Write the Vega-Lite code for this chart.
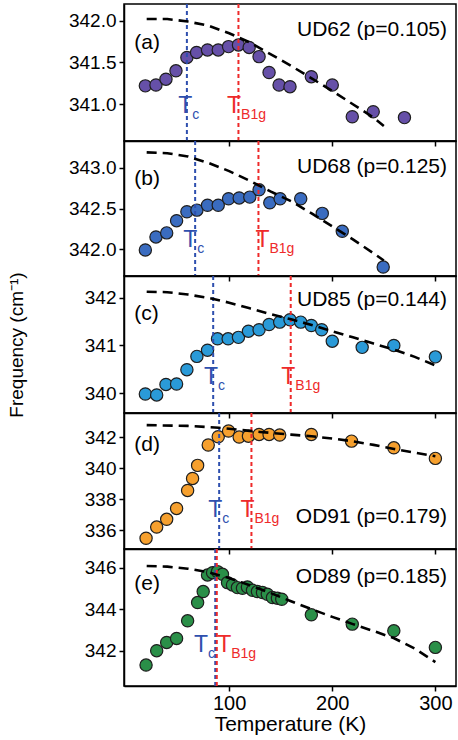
{
  "$schema": "https://vega.github.io/schema/vega-lite/v6.json",
  "padding": {"left": 6, "top": 2, "right": 1, "bottom": 0},
  "spacing": 0,
  "bounds": "flush",
  "resolve": {"scale": {"y": "independent", "x": "independent", "color": "shared"}},
  "config": {
    "view": {"stroke": "black", "strokeWidth": 1.5},
    "axis": {"labelFont": "Liberation Sans", "titleFont": "Liberation Sans", "labelFontSize": 19, "titleFontSize": 21, "titleFontWeight": "normal", "labelColor": "black", "titleColor": "black", "tickColor": "black", "domainColor": "black", "domainWidth": 1.5, "tickWidth": 1.5, "tickSize": 5, "grid": false, "labelPadding": 3},
    "text": {"font": "Liberation Sans"}
  },
  "datasets": {
    "points": [
      {"p":"a","T":18.7,"f":341.22},{"p":"a","T":29,"f":341.23},{"p":"a","T":38.7,"f":341.30},{"p":"a","T":48.4,"f":341.40},{"p":"a","T":59,"f":341.56},{"p":"a","T":68.4,"f":341.62},{"p":"a","T":79,"f":341.65},{"p":"a","T":89.4,"f":341.65},{"p":"a","T":99.4,"f":341.69},{"p":"a","T":109,"f":341.71},{"p":"a","T":119.4,"f":341.68},{"p":"a","T":129,"f":341.57},{"p":"a","T":138.7,"f":341.38},{"p":"a","T":148.4,"f":341.23},{"p":"a","T":159,"f":341.21},{"p":"a","T":179.7,"f":341.33},{"p":"a","T":200,"f":341.23},{"p":"a","T":219.4,"f":340.85},{"p":"a","T":239.7,"f":340.91},{"p":"a","T":270,"f":340.84},
      {"p":"b","T":18.7,"f":341.99},{"p":"b","T":29,"f":342.15},{"p":"b","T":39.4,"f":342.20},{"p":"b","T":49,"f":342.35},{"p":"b","T":59,"f":342.46},{"p":"b","T":68.7,"f":342.48},{"p":"b","T":79,"f":342.54},{"p":"b","T":89.4,"f":342.54},{"p":"b","T":99.4,"f":342.62},{"p":"b","T":109.7,"f":342.63},{"p":"b","T":120,"f":342.64},{"p":"b","T":129,"f":342.73},{"p":"b","T":139.4,"f":342.57},{"p":"b","T":149.4,"f":342.62},{"p":"b","T":169.4,"f":342.62},{"p":"b","T":190.3,"f":342.44},{"p":"b","T":209.7,"f":342.22},{"p":"b","T":249.4,"f":341.78},
      {"p":"c","T":18.7,"f":339.98},{"p":"c","T":29.7,"f":339.96},{"p":"c","T":38.7,"f":340.18},{"p":"c","T":49,"f":340.19},{"p":"c","T":59,"f":340.49},{"p":"c","T":68.7,"f":340.77},{"p":"c","T":79,"f":340.90},{"p":"c","T":88.7,"f":341.14},{"p":"c","T":99,"f":341.14},{"p":"c","T":109,"f":341.17},{"p":"c","T":118.7,"f":341.30},{"p":"c","T":129,"f":341.33},{"p":"c","T":138.7,"f":341.44},{"p":"c","T":149,"f":341.49},{"p":"c","T":159,"f":341.54},{"p":"c","T":169.4,"f":341.49},{"p":"c","T":179.7,"f":341.42},{"p":"c","T":189.7,"f":341.33},{"p":"c","T":200,"f":341.09},{"p":"c","T":229,"f":340.96},{"p":"c","T":259.7,"f":341.00},{"p":"c","T":300,"f":340.76},
      {"p":"d","T":19.4,"f":335.49},{"p":"d","T":29.7,"f":336.21},{"p":"d","T":39.4,"f":336.71},{"p":"d","T":49,"f":337.41},{"p":"d","T":59.7,"f":338.57},{"p":"d","T":64.5,"f":339.34},{"p":"d","T":69.4,"f":340.18},{"p":"d","T":79.7,"f":341.49},{"p":"d","T":89.4,"f":342.02},{"p":"d","T":99.4,"f":342.39},{"p":"d","T":109.7,"f":342.0},{"p":"d","T":118.7,"f":342.06},{"p":"d","T":129,"f":342.17},{"p":"d","T":138.7,"f":342.17},{"p":"d","T":149,"f":342.13},{"p":"d","T":179.7,"f":342.17},{"p":"d","T":218.7,"f":341.74},{"p":"d","T":259.7,"f":341.31},{"p":"d","T":300,"f":340.63},
      {"p":"e","T":19.4,"f":341.31},{"p":"e","T":29.7,"f":342.0},{"p":"e","T":39.4,"f":342.4},{"p":"e","T":49,"f":342.59},{"p":"e","T":59.7,"f":343.44},{"p":"e","T":69.4,"f":344.32},{"p":"e","T":74.8,"f":344.85},{"p":"e","T":79,"f":345.65},{"p":"e","T":83.9,"f":345.76},{"p":"e","T":88.7,"f":345.81},{"p":"e","T":93.5,"f":345.68},{"p":"e","T":98.4,"f":345.28},{"p":"e","T":103.2,"f":345.17},{"p":"e","T":108,"f":345.04},{"p":"e","T":112.9,"f":345.01},{"p":"e","T":117.7,"f":345.07},{"p":"e","T":122.6,"f":344.91},{"p":"e","T":127.4,"f":344.85},{"p":"e","T":132.3,"f":344.8},{"p":"e","T":137,"f":344.72},{"p":"e","T":142,"f":344.56},{"p":"e","T":146.8,"f":344.53},{"p":"e","T":151,"f":344.48},{"p":"e","T":179.7,"f":343.73},{"p":"e","T":219.4,"f":343.28},{"p":"e","T":259.7,"f":342.96},{"p":"e","T":300,"f":342.16}
    ],
    "fits": [
      {"p":"a","T":20,"f":342.02},{"p":"a","T":40,"f":342.02},{"p":"a","T":60,"f":341.99},{"p":"a","T":80,"f":341.94},{"p":"a","T":100,"f":341.85},{"p":"a","T":120,"f":341.74},{"p":"a","T":140,"f":341.60},{"p":"a","T":160,"f":341.46},{"p":"a","T":180,"f":341.31},{"p":"a","T":200,"f":341.16},{"p":"a","T":220,"f":341.00},{"p":"a","T":240,"f":340.84},{"p":"a","T":250,"f":340.74},
      {"p":"b","T":20,"f":343.19},{"p":"b","T":40,"f":343.18},{"p":"b","T":60,"f":343.14},{"p":"b","T":80,"f":343.06},{"p":"b","T":100,"f":342.96},{"p":"b","T":120,"f":342.84},{"p":"b","T":140,"f":342.71},{"p":"b","T":160,"f":342.59},{"p":"b","T":180,"f":342.44},{"p":"b","T":200,"f":342.28},{"p":"b","T":220,"f":342.12},{"p":"b","T":240,"f":341.95},{"p":"b","T":250,"f":341.86},
      {"p":"c","T":20,"f":342.13},{"p":"c","T":40,"f":342.12},{"p":"c","T":60,"f":342.07},{"p":"c","T":80,"f":342.0},{"p":"c","T":100,"f":341.9},{"p":"c","T":120,"f":341.78},{"p":"c","T":140,"f":341.66},{"p":"c","T":160,"f":341.55},{"p":"c","T":180,"f":341.43},{"p":"c","T":200,"f":341.3},{"p":"c","T":220,"f":341.17},{"p":"c","T":240,"f":341.04},{"p":"c","T":260,"f":340.91},{"p":"c","T":280,"f":340.76},{"p":"c","T":300,"f":340.58},
      {"p":"d","T":20,"f":342.77},{"p":"d","T":60,"f":342.72},{"p":"d","T":90,"f":342.6},{"p":"d","T":110,"f":342.47},{"p":"d","T":130,"f":342.33},{"p":"d","T":160,"f":342.16},{"p":"d","T":180,"f":342.05},{"p":"d","T":200,"f":341.91},{"p":"d","T":220,"f":341.73},{"p":"d","T":240,"f":341.5},{"p":"d","T":260,"f":341.24},{"p":"d","T":280,"f":341.0},{"p":"d","T":300,"f":340.77},
      {"p":"e","T":20,"f":346.08},{"p":"e","T":40,"f":346.05},{"p":"e","T":60,"f":345.95},{"p":"e","T":80,"f":345.78},{"p":"e","T":100,"f":345.5},{"p":"e","T":120,"f":345.15},{"p":"e","T":140,"f":344.78},{"p":"e","T":160,"f":344.38},{"p":"e","T":180,"f":344.0},{"p":"e","T":200,"f":343.63},{"p":"e","T":220,"f":343.28},{"p":"e","T":240,"f":342.95},{"p":"e","T":260,"f":342.6},{"p":"e","T":280,"f":342.1},{"p":"e","T":300,"f":341.45}
    ],
    "temps": [
      {"p":"a","kind":"Tc","T":59},{"p":"a","kind":"TB1g","T":109},
      {"p":"b","kind":"Tc","T":67},{"p":"b","kind":"TB1g","T":128.4},
      {"p":"c","kind":"Tc","T":84.5},{"p":"c","kind":"TB1g","T":159.7},
      {"p":"d","kind":"Tc","T":90.3},{"p":"d","kind":"TB1g","T":121.6},
      {"p":"e","kind":"Tc","T":86.5},{"p":"e","kind":"TB1g","T":88}
    ],
    "tlabels": [
      {"p":"a","kind":"Tc","T":57.4,"f":340.89,"sub":"c"},{"p":"a","kind":"TB1g","T":104.8,"f":340.89,"sub":"B1g"},
      {"p":"b","kind":"Tc","T":62.3,"f":342.03,"sub":"c"},{"p":"b","kind":"TB1g","T":132.3,"f":342.03,"sub":"B1g"},
      {"p":"c","kind":"Tc","T":82.3,"f":340.18,"sub":"c"},{"p":"c","kind":"TB1g","T":157.4,"f":340.18,"sub":"B1g"},
      {"p":"d","kind":"Tc","T":86.5,"f":336.85,"sub":"c"},{"p":"d","kind":"TB1g","T":117.7,"f":336.85,"sub":"B1g"},
      {"p":"e","kind":"Tc","T":72.6,"f":341.96,"sub":"c"},{"p":"e","kind":"TB1g","T":95.2,"f":341.96,"sub":"B1g"}
    ],
    "names": [
      {"p":"a","letter":"(a)","lf":341.66,"name":"UD62 (p=0.105)","nf":341.82},
      {"p":"b","letter":"(b)","lf":342.79,"name":"UD68 (p=0.125)","nf":342.94},
      {"p":"c","letter":"(c)","lf":341.53,"name":"UD85 (p=0.144)","nf":341.83},
      {"p":"d","letter":"(d)","lf":341.1,"name":"OD91 (p=0.179)","nf":336.49},
      {"p":"e","letter":"(e)","lf":344.91,"name":"OD89 (p=0.185)","nf":345.28}
    ]
  },
  "vconcat": [
    {
      "width": 332, "height": 137,
      "layer": [
        {"data": {"name": "points"}, "transform": [{"filter": "datum.p == 'a'"}],
         "mark": {"type": "circle", "size": 150, "color": "#6650a8", "opacity": 1, "stroke": "#1e1e1e", "strokeWidth": 1.2},
         "encoding": {
           "x": {"field": "T", "type": "quantitative", "scale": {"domain": [-2, 320], "nice": false}, "axis": {"values": [100, 200, 300], "labels": false, "title": null}},
           "y": {"field": "f", "type": "quantitative", "scale": {"domain": [340.56, 342.2], "nice": false, "zero": false}, "axis": {"values": [341.0, 341.5, 342.0], "format": ".1f", "title": null}}}},
        {"data": {"name": "temps"}, "transform": [{"filter": "datum.p == 'a'"}],
         "mark": {"type": "rule", "strokeDash": [4, 3], "strokeWidth": 2},
         "encoding": {"x": {"field": "T", "type": "quantitative"}, "color": {"field": "kind", "type": "nominal", "scale": {"domain": ["Tc", "TB1g"], "range": ["#2e4fae", "#ee2a2a"]}, "legend": null}}},
        {"data": {"name": "fits"}, "transform": [{"filter": "datum.p == 'a'"}],
         "mark": {"type": "line", "color": "black", "strokeDash": [10, 6], "strokeWidth": 2.6},
         "encoding": {"x": {"field": "T", "type": "quantitative"}, "y": {"field": "f", "type": "quantitative"}}},
        {"data": {"name": "tlabels"}, "transform": [{"filter": "datum.p == 'a'"}],
         "mark": {"type": "text", "text": "T", "fontSize": 23, "align": "center", "baseline": "alphabetic"},
         "encoding": {"x": {"field": "T", "type": "quantitative"}, "y": {"field": "f", "type": "quantitative"}, "color": {"field": "kind", "type": "nominal", "legend": null}}},
        {"data": {"name": "tlabels"}, "transform": [{"filter": "datum.p == 'a'"}],
         "mark": {"type": "text", "fontSize": 14, "align": "left", "baseline": "alphabetic", "dx": 7, "dy": 6},
         "encoding": {"x": {"field": "T", "type": "quantitative"}, "y": {"field": "f", "type": "quantitative"}, "text": {"field": "sub"}, "color": {"field": "kind", "type": "nominal", "legend": null}}},
        {"data": {"name": "names"}, "transform": [{"filter": "datum.p == 'a'"}],
         "mark": {"type": "text", "fontSize": 21, "align": "left", "baseline": "alphabetic", "color": "black"},
         "encoding": {"x": {"datum": 8}, "y": {"field": "lf", "type": "quantitative"}, "text": {"field": "letter"}}},
        {"data": {"name": "names"}, "transform": [{"filter": "datum.p == 'a'"}],
         "mark": {"type": "text", "fontSize": 21, "align": "right", "baseline": "alphabetic", "color": "black"},
         "encoding": {"x": {"datum": 311.3}, "y": {"field": "nf", "type": "quantitative"}, "text": {"field": "name"}}}
      ]
    },
    {
      "width": 332, "height": 135,
      "layer": [
        {"data": {"name": "points"}, "transform": [{"filter": "datum.p == 'b'"}],
         "mark": {"type": "circle", "size": 150, "color": "#3a6cc0", "opacity": 1, "stroke": "#1e1e1e", "strokeWidth": 1.2},
         "encoding": {
           "x": {"field": "T", "type": "quantitative", "scale": {"domain": [-2, 320], "nice": false}, "axis": {"values": [100, 200, 300], "labels": false, "title": null}},
           "y": {"field": "f", "type": "quantitative", "scale": {"domain": [341.67, 343.33], "nice": false, "zero": false}, "axis": {"values": [342.0, 342.5, 343.0], "format": ".1f", "title": null}}}},
        {"data": {"name": "temps"}, "transform": [{"filter": "datum.p == 'b'"}],
         "mark": {"type": "rule", "strokeDash": [4, 3], "strokeWidth": 2},
         "encoding": {"x": {"field": "T", "type": "quantitative"}, "color": {"field": "kind", "type": "nominal", "scale": {"domain": ["Tc", "TB1g"], "range": ["#2e4fae", "#ee2a2a"]}, "legend": null}}},
        {"data": {"name": "fits"}, "transform": [{"filter": "datum.p == 'b'"}],
         "mark": {"type": "line", "color": "black", "strokeDash": [10, 6], "strokeWidth": 2.6},
         "encoding": {"x": {"field": "T", "type": "quantitative"}, "y": {"field": "f", "type": "quantitative"}}},
        {"data": {"name": "tlabels"}, "transform": [{"filter": "datum.p == 'b'"}],
         "mark": {"type": "text", "text": "T", "fontSize": 23, "align": "center", "baseline": "alphabetic"},
         "encoding": {"x": {"field": "T", "type": "quantitative"}, "y": {"field": "f", "type": "quantitative"}, "color": {"field": "kind", "type": "nominal", "legend": null}}},
        {"data": {"name": "tlabels"}, "transform": [{"filter": "datum.p == 'b'"}],
         "mark": {"type": "text", "fontSize": 14, "align": "left", "baseline": "alphabetic", "dx": 7, "dy": 6},
         "encoding": {"x": {"field": "T", "type": "quantitative"}, "y": {"field": "f", "type": "quantitative"}, "text": {"field": "sub"}, "color": {"field": "kind", "type": "nominal", "legend": null}}},
        {"data": {"name": "names"}, "transform": [{"filter": "datum.p == 'b'"}],
         "mark": {"type": "text", "fontSize": 21, "align": "left", "baseline": "alphabetic", "color": "black"},
         "encoding": {"x": {"datum": 8}, "y": {"field": "lf", "type": "quantitative"}, "text": {"field": "letter"}}},
        {"data": {"name": "names"}, "transform": [{"filter": "datum.p == 'b'"}],
         "mark": {"type": "text", "fontSize": 21, "align": "right", "baseline": "alphabetic", "color": "black"},
         "encoding": {"x": {"datum": 311.3}, "y": {"field": "nf", "type": "quantitative"}, "text": {"field": "name"}}}
      ]
    },
    {
      "width": 332, "height": 137,
      "layer": [
        {"data": {"name": "points"}, "transform": [{"filter": "datum.p == 'c'"}],
         "mark": {"type": "circle", "size": 150, "color": "#2a9ad8", "opacity": 1, "stroke": "#1e1e1e", "strokeWidth": 1.2},
         "encoding": {
           "x": {"field": "T", "type": "quantitative", "scale": {"domain": [-2, 320], "nice": false}, "axis": {"values": [100, 200, 300], "labels": false, "title": null}},
           "y": {"field": "f", "type": "quantitative", "scale": {"domain": [339.58, 342.46], "nice": false, "zero": false}, "axis": {"values": [340, 341, 342], "format": "d", "title": "Frequency (cm⁻¹)", "titleFontSize": 19, "titleX": -98}}}},
        {"data": {"name": "temps"}, "transform": [{"filter": "datum.p == 'c'"}],
         "mark": {"type": "rule", "strokeDash": [4, 3], "strokeWidth": 2},
         "encoding": {"x": {"field": "T", "type": "quantitative"}, "color": {"field": "kind", "type": "nominal", "scale": {"domain": ["Tc", "TB1g"], "range": ["#2e4fae", "#ee2a2a"]}, "legend": null}}},
        {"data": {"name": "fits"}, "transform": [{"filter": "datum.p == 'c'"}],
         "mark": {"type": "line", "color": "black", "strokeDash": [10, 6], "strokeWidth": 2.6},
         "encoding": {"x": {"field": "T", "type": "quantitative"}, "y": {"field": "f", "type": "quantitative"}}},
        {"data": {"name": "tlabels"}, "transform": [{"filter": "datum.p == 'c'"}],
         "mark": {"type": "text", "text": "T", "fontSize": 23, "align": "center", "baseline": "alphabetic"},
         "encoding": {"x": {"field": "T", "type": "quantitative"}, "y": {"field": "f", "type": "quantitative"}, "color": {"field": "kind", "type": "nominal", "legend": null}}},
        {"data": {"name": "tlabels"}, "transform": [{"filter": "datum.p == 'c'"}],
         "mark": {"type": "text", "fontSize": 14, "align": "left", "baseline": "alphabetic", "dx": 7, "dy": 6},
         "encoding": {"x": {"field": "T", "type": "quantitative"}, "y": {"field": "f", "type": "quantitative"}, "text": {"field": "sub"}, "color": {"field": "kind", "type": "nominal", "legend": null}}},
        {"data": {"name": "names"}, "transform": [{"filter": "datum.p == 'c'"}],
         "mark": {"type": "text", "fontSize": 21, "align": "left", "baseline": "alphabetic", "color": "black"},
         "encoding": {"x": {"datum": 8}, "y": {"field": "lf", "type": "quantitative"}, "text": {"field": "letter"}}},
        {"data": {"name": "names"}, "transform": [{"filter": "datum.p == 'c'"}],
         "mark": {"type": "text", "fontSize": 21, "align": "right", "baseline": "alphabetic", "color": "black"},
         "encoding": {"x": {"datum": 311.3}, "y": {"field": "nf", "type": "quantitative"}, "text": {"field": "name"}}}
      ]
    },
    {
      "width": 332, "height": 136,
      "layer": [
        {"data": {"name": "points"}, "transform": [{"filter": "datum.p == 'd'"}],
         "mark": {"type": "circle", "size": 150, "color": "#f6a02e", "opacity": 1, "stroke": "#1e1e1e", "strokeWidth": 1.2},
         "encoding": {
           "x": {"field": "T", "type": "quantitative", "scale": {"domain": [-2, 320], "nice": false}, "axis": {"values": [100, 200, 300], "labels": false, "title": null}},
           "y": {"field": "f", "type": "quantitative", "scale": {"domain": [334.8, 343.55], "nice": false, "zero": false}, "axis": {"values": [336, 338, 340, 342], "format": "d", "title": null}}}},
        {"data": {"name": "temps"}, "transform": [{"filter": "datum.p == 'd'"}],
         "mark": {"type": "rule", "strokeDash": [4, 3], "strokeWidth": 2},
         "encoding": {"x": {"field": "T", "type": "quantitative"}, "color": {"field": "kind", "type": "nominal", "scale": {"domain": ["Tc", "TB1g"], "range": ["#2e4fae", "#ee2a2a"]}, "legend": null}}},
        {"data": {"name": "fits"}, "transform": [{"filter": "datum.p == 'd'"}],
         "mark": {"type": "line", "color": "black", "strokeDash": [10, 6], "strokeWidth": 2.6},
         "encoding": {"x": {"field": "T", "type": "quantitative"}, "y": {"field": "f", "type": "quantitative"}}},
        {"data": {"name": "tlabels"}, "transform": [{"filter": "datum.p == 'd'"}],
         "mark": {"type": "text", "text": "T", "fontSize": 23, "align": "center", "baseline": "alphabetic"},
         "encoding": {"x": {"field": "T", "type": "quantitative"}, "y": {"field": "f", "type": "quantitative"}, "color": {"field": "kind", "type": "nominal", "legend": null}}},
        {"data": {"name": "tlabels"}, "transform": [{"filter": "datum.p == 'd'"}],
         "mark": {"type": "text", "fontSize": 14, "align": "left", "baseline": "alphabetic", "dx": 7, "dy": 6},
         "encoding": {"x": {"field": "T", "type": "quantitative"}, "y": {"field": "f", "type": "quantitative"}, "text": {"field": "sub"}, "color": {"field": "kind", "type": "nominal", "legend": null}}},
        {"data": {"name": "names"}, "transform": [{"filter": "datum.p == 'd'"}],
         "mark": {"type": "text", "fontSize": 21, "align": "left", "baseline": "alphabetic", "color": "black"},
         "encoding": {"x": {"datum": 8}, "y": {"field": "lf", "type": "quantitative"}, "text": {"field": "letter"}}},
        {"data": {"name": "names"}, "transform": [{"filter": "datum.p == 'd'"}],
         "mark": {"type": "text", "fontSize": 21, "align": "right", "baseline": "alphabetic", "color": "black"},
         "encoding": {"x": {"datum": 311.3}, "y": {"field": "nf", "type": "quantitative"}, "text": {"field": "name"}}}
      ]
    },
    {
      "width": 332, "height": 137,
      "layer": [
        {"data": {"name": "points"}, "transform": [{"filter": "datum.p == 'e'"}],
         "mark": {"type": "circle", "size": 150, "color": "#2a8f48", "opacity": 1, "stroke": "#1e1e1e", "strokeWidth": 1.2},
         "encoding": {
           "x": {"field": "T", "type": "quantitative", "scale": {"domain": [-2, 320], "nice": false}, "axis": {"values": [100, 200, 300], "title": "Temperature (K)", "labelFontSize": 20, "labelPadding": 2, "titlePadding": 0}},
           "y": {"field": "f", "type": "quantitative", "scale": {"domain": [340.3, 346.9], "nice": false, "zero": false}, "axis": {"values": [342, 344, 346], "format": "d", "title": null}}}},
        {"data": {"name": "temps"}, "transform": [{"filter": "datum.p == 'e'"}],
         "mark": {"type": "rule", "strokeDash": [4, 3], "strokeWidth": 2},
         "encoding": {"x": {"field": "T", "type": "quantitative"}, "color": {"field": "kind", "type": "nominal", "scale": {"domain": ["Tc", "TB1g"], "range": ["#2e4fae", "#ee2a2a"]}, "legend": null}}},
        {"data": {"name": "fits"}, "transform": [{"filter": "datum.p == 'e'"}],
         "mark": {"type": "line", "color": "black", "strokeDash": [10, 6], "strokeWidth": 2.6},
         "encoding": {"x": {"field": "T", "type": "quantitative"}, "y": {"field": "f", "type": "quantitative"}}},
        {"data": {"name": "tlabels"}, "transform": [{"filter": "datum.p == 'e'"}],
         "mark": {"type": "text", "text": "T", "fontSize": 23, "align": "center", "baseline": "alphabetic"},
         "encoding": {"x": {"field": "T", "type": "quantitative"}, "y": {"field": "f", "type": "quantitative"}, "color": {"field": "kind", "type": "nominal", "legend": null}}},
        {"data": {"name": "tlabels"}, "transform": [{"filter": "datum.p == 'e'"}],
         "mark": {"type": "text", "fontSize": 14, "align": "left", "baseline": "alphabetic", "dx": 7, "dy": 6},
         "encoding": {"x": {"field": "T", "type": "quantitative"}, "y": {"field": "f", "type": "quantitative"}, "text": {"field": "sub"}, "color": {"field": "kind", "type": "nominal", "legend": null}}},
        {"data": {"name": "names"}, "transform": [{"filter": "datum.p == 'e'"}],
         "mark": {"type": "text", "fontSize": 21, "align": "left", "baseline": "alphabetic", "color": "black"},
         "encoding": {"x": {"datum": 8}, "y": {"field": "lf", "type": "quantitative"}, "text": {"field": "letter"}}},
        {"data": {"name": "names"}, "transform": [{"filter": "datum.p == 'e'"}],
         "mark": {"type": "text", "fontSize": 21, "align": "right", "baseline": "alphabetic", "color": "black"},
         "encoding": {"x": {"datum": 311.3}, "y": {"field": "nf", "type": "quantitative"}, "text": {"field": "name"}}}
      ]
    }
  ]
}
